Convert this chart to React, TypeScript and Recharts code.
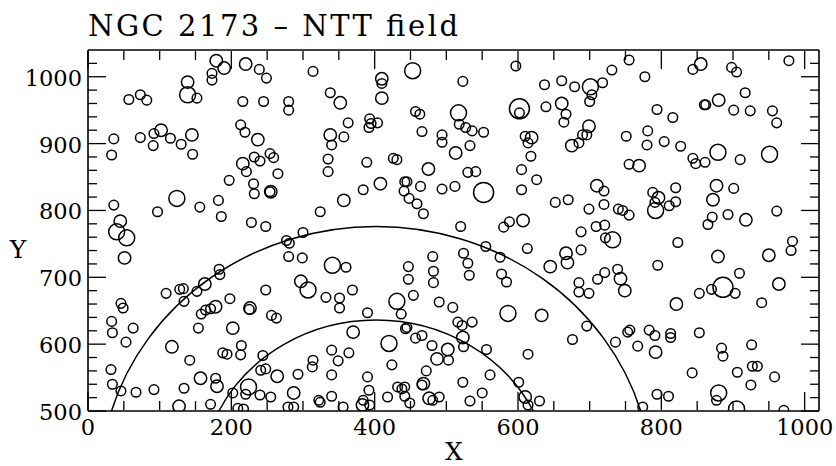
import React from "react";
import { ScatterChart, Scatter, XAxis, YAxis, ReferenceDot } from "recharts";

const smallStars: [number, number][] = [
  [173, 1005], [173, 995], [239, 1011], [249, 998], [314, 1008], [152, 968], [57, 966], [73, 973], [82, 965],
  [216, 963], [245, 963], [280, 963], [280, 950], [338, 976], [410, 990], [523, 993], [597, 1016], [637, 988],
  [661, 994], [679, 985], [703, 973], [718, 991], [731, 1010], [755, 1025], [777, 1000], [844, 1011], [898, 1014],
  [905, 1007], [978, 1024], [917, 976], [860, 958], [901, 950], [924, 949], [955, 949], [961, 931], [794, 951],
  [816, 939], [639, 955], [667, 944], [664, 932], [700, 963], [602, 946], [518, 929], [527, 924], [552, 917],
  [457, 948], [463, 944], [466, 918], [393, 937], [395, 930], [392, 924], [404, 931], [363, 931], [340, 898],
  [357, 910], [494, 913], [494, 902], [536, 919], [533, 897], [610, 911], [614, 901], [618, 881], [605, 861],
  [626, 846], [690, 913], [696, 913], [685, 901], [751, 911], [781, 919], [780, 898], [804, 903], [827, 896],
  [910, 876], [844, 878], [848, 870], [861, 872], [755, 869],
  [33, 883], [36, 907], [73, 909], [91, 897], [92, 915], [115, 908], [130, 899], [146, 884], [213, 928], [219, 917],
  [221, 858], [232, 880], [240, 874], [254, 885], [259, 879], [265, 855], [231, 840], [232, 825], [197, 845],
  [156, 805], [182, 815], [186, 791], [97, 798], [36, 808], [228, 782], [248, 776], [277, 755], [281, 751],
  [300, 767], [280, 731], [299, 729], [324, 798], [335, 877], [335, 858], [384, 831], [389, 872], [426, 878],
  [431, 876], [442, 843], [445, 843], [441, 829], [448, 818], [459, 810], [468, 795], [464, 836], [494, 832],
  [512, 836], [530, 857], [541, 858], [605, 831], [652, 812], [670, 816], [720, 829], [720, 809], [699, 802],
  [740, 802], [746, 800], [755, 793], [788, 827], [791, 812], [811, 807], [820, 834], [820, 813], [871, 790],
  [865, 779], [901, 833], [893, 794], [961, 799], [983, 754], [981, 740], [823, 752], [795, 718], [909, 706],
  [870, 682], [853, 676], [903, 676], [940, 662], [853, 617], [884, 594], [886, 582], [926, 599], [791, 613],
  [783, 621], [813, 616], [813, 610], [767, 597], [753, 618], [756, 621], [736, 603], [843, 557], [906, 558],
  [927, 567], [934, 567], [958, 551], [925, 539], [794, 525], [810, 522], [877, 516], [971, 501], [774, 506],
  [696, 627], [676, 607],
  [688, 741], [685, 692], [685, 678], [699, 676], [711, 697], [721, 707], [739, 712], [722, 759], [709, 776],
  [721, 778], [688, 768], [613, 743], [588, 783], [580, 775], [577, 705], [584, 693], [575, 730], [555, 746],
  [520, 776], [524, 736], [530, 721], [532, 703], [481, 731], [482, 709], [482, 692], [447, 716], [447, 697],
  [454, 673], [437, 645], [443, 623], [490, 663], [509, 655], [516, 633], [522, 628], [536, 633], [524, 596],
  [556, 592], [503, 576], [472, 560], [480, 598], [457, 609], [466, 613], [424, 569], [445, 625], [390, 647],
  [364, 587], [340, 591], [349, 575], [340, 554], [351, 654], [351, 669], [332, 670], [369, 681], [360, 715],
  [248, 681], [225, 652], [256, 643], [263, 639], [214, 598], [213, 584], [244, 583], [198, 668], [183, 712],
  [184, 704], [152, 679], [128, 682], [133, 683], [109, 676], [134, 664], [158, 645], [164, 651], [171, 653],
  [154, 624], [142, 576], [134, 534], [188, 587], [194, 585], [171, 510], [202, 527], [220, 525], [209, 504],
  [217, 503], [241, 561], [248, 563], [255, 521], [240, 524], [293, 555], [314, 576], [313, 566], [279, 506],
  [287, 506], [322, 516], [340, 522], [324, 513], [356, 506], [384, 516], [393, 509], [392, 531], [390, 551],
  [418, 521], [432, 536], [438, 533], [442, 536], [442, 522], [449, 512], [466, 539], [481, 516], [490, 521],
  [523, 543], [533, 515], [550, 527], [561, 554], [601, 543], [614, 509], [630, 515], [614, 585], [32, 562],
  [34, 540], [46, 530], [67, 528], [92, 532], [33, 634], [34, 617], [46, 661], [49, 654], [63, 624], [53, 603],
  [178, 549], [254, 828], [862, 958],
];

const mediumStars: [number, number][] = [
  [179, 1024], [190, 1013], [220, 1019], [139, 992], [410, 997], [410, 968], [352, 961], [855, 1019], [880, 965],
  [661, 960], [338, 913], [513, 886], [619, 909], [699, 926], [675, 897], [769, 867], [237, 906], [145, 913],
  [102, 920], [216, 870], [255, 828], [408, 840], [357, 815], [475, 862], [710, 837], [796, 819], [872, 816],
  [877, 837], [918, 786], [607, 785], [645, 716], [667, 736], [669, 722], [743, 698], [749, 680], [879, 731],
  [950, 733], [964, 690], [821, 660], [792, 588], [633, 643], [45, 784], [51, 729], [117, 596], [163, 690],
  [178, 656], [202, 624], [226, 654], [297, 694], [264, 552], [287, 527], [157, 549], [180, 537], [127, 507],
  [468, 541], [487, 578], [502, 592], [523, 610], [610, 521], [476, 519], [383, 509], [370, 618],
];

const largeStars: [number, number][] = [
  [453, 1009], [701, 985], [139, 973], [517, 946], [124, 818], [40, 768], [54, 759], [879, 887], [951, 884],
  [792, 800], [341, 718], [307, 681], [431, 664], [420, 601], [586, 646], [732, 756], [880, 527], [905, 503],
  [224, 536],
];

const hugeStars: [number, number][] = [
  [602, 952], [552, 827], [886, 685],
];

// two circles about the same centre (data units)
const ringCentre = { x: 402, y: 391 };
const ringRadii = [385, 245];

const X_DOMAIN: [number, number] = [0, 1020];
const Y_DOMAIN: [number, number] = [500, 1040];
const X_TICKS = [0, 50, 100, 150, 200, 250, 300, 350, 400, 450, 500, 550, 600, 650, 700, 750, 800, 850, 900, 950, 1000];
const Y_TICKS = [500, 520, 540, 560, 580, 600, 620, 640, 660, 680, 700, 720, 740, 760, 780, 800, 820, 840, 860, 880,
  900, 920, 940, 960, 980, 1000, 1020];

const W = 836;
const H = 466;
// axes are 1px thick, so plot box = 88..819 x 50..411
const MARGIN = { top: 49, right: 16, bottom: 54, left: 87 };
const PLOT_W = 731;
const PLOT_H = 361;
const FONT = "DejaVu Serif";

const toPts = (arr: [number, number][]) => arr.map(([x, y]) => ({ x, y }));

const ring = (r: number) => (p: any) => (
  <circle cx={p.cx} cy={p.cy} r={r} fill="none" stroke="#000" strokeWidth={1.5} />
);

const Arcs = (p: any) => {
  const sx = PLOT_W / (X_DOMAIN[1] - X_DOMAIN[0]);
  const sy = PLOT_H / (Y_DOMAIN[1] - Y_DOMAIN[0]);
  const dy = Y_DOMAIN[0] - ringCentre.y;
  const yb = p.cy - dy * sy;
  return (
    <g>
      {ringRadii.map((R) => {
        const hw = Math.sqrt(R * R - dy * dy);
        const d = `M ${p.cx - hw * sx} ${yb} A ${R * sx} ${R * sy} 0 0 1 ${p.cx + hw * sx} ${yb}`;
        return <path key={R} d={d} fill="none" stroke="#000" strokeWidth={1.5} />;
      })}
    </g>
  );
};

const xMajor = (v: number) => v % 200 === 0;
const yMajor = (v: number) => v % 100 === 0;

const BottomTick = (p: any) => {
  const v = p.payload.value;
  const y = p.y - 1;
  return (
    <g>
      <line x1={p.x} x2={p.x} y1={y} y2={y - (xMajor(v) ? 18 : 9)} stroke="#000" strokeWidth={1.3} />
      {xMajor(v) && (
        <text x={p.x} y={y + 25} textAnchor="middle" fontFamily={FONT} fontSize={22.5} fill="#000">
          {v}
        </text>
      )}
    </g>
  );
};

const TopTick = (p: any) => {
  const v = p.payload.value;
  const y = p.y + 1;
  return <line x1={p.x} x2={p.x} y1={y} y2={y + (xMajor(v) ? 18 : 9)} stroke="#000" strokeWidth={1.3} />;
};

const LeftTick = (p: any) => {
  const v = p.payload.value;
  return (
    <g>
      <line x1={p.x} x2={p.x + (yMajor(v) ? 18 : 9)} y1={p.y} y2={p.y} stroke="#000" strokeWidth={1.3} />
      {yMajor(v) && (
        <text x={p.x - 6} y={p.y + 9} textAnchor="end" fontFamily={FONT} fontSize={22.5} fill="#000">
          {v}
        </text>
      )}
    </g>
  );
};

const RightTick = (p: any) => {
  const v = p.payload.value;
  return <line x1={p.x} x2={p.x - (yMajor(v) ? 18 : 9)} y1={p.y} y2={p.y} stroke="#000" strokeWidth={1.3} />;
};

const frame = { stroke: "#000", strokeWidth: 1.6 };

export default function App() {
  return (
    <div style={{ position: "absolute", left: 0, top: 0, width: W, height: H, background: "#fff" }}>
      <svg style={{ position: "absolute", left: 0, top: 0 }} width={W} height={H}>
        <text x={88} y={36} fontFamily={FONT} fontSize={29} textLength={370} lengthAdjust="spacing" fill="#000">
          NGC 2173 – NTT field
        </text>
        <text x={454} y={460} textAnchor="middle" fontFamily={FONT} fontSize={25} fill="#000">X</text>
        <text x={18} y={258} textAnchor="middle" fontFamily={FONT} fontSize={25} fill="#000">Y</text>
      </svg>
      <div style={{ position: "absolute", left: 0, top: 0 }}>
        <ScatterChart width={W} height={H} margin={MARGIN}>
          <XAxis xAxisId="bottom" type="number" dataKey="x" domain={X_DOMAIN} allowDataOverflow ticks={X_TICKS}
            interval={0} height={1} tickSize={0} tickMargin={0} tickLine={false} axisLine={frame} tick={<BottomTick />} />
          <XAxis xAxisId="top" orientation="top" type="number" dataKey="x" domain={X_DOMAIN} allowDataOverflow ticks={X_TICKS}
            interval={0} height={1} tickSize={0} tickMargin={0} tickLine={false} axisLine={frame} tick={<TopTick />} />
          <YAxis yAxisId="left" type="number" dataKey="y" domain={Y_DOMAIN} allowDataOverflow ticks={Y_TICKS}
            interval={0} width={1} tickSize={0} tickMargin={0} tickLine={false} axisLine={frame} tick={<LeftTick />} />
          <YAxis yAxisId="right" orientation="right" type="number" dataKey="y" domain={Y_DOMAIN} allowDataOverflow ticks={Y_TICKS}
            interval={0} width={1} tickSize={0} tickMargin={0} tickLine={false} axisLine={frame} tick={<RightTick />} />
          <Scatter xAxisId="bottom" yAxisId="left" data={toPts(smallStars)} shape={ring(4.8)} isAnimationActive={false} />
          <Scatter xAxisId="bottom" yAxisId="left" data={toPts(mediumStars)} shape={ring(6.2)} isAnimationActive={false} />
          <Scatter xAxisId="bottom" yAxisId="left" data={toPts(largeStars)} shape={ring(8)} isAnimationActive={false} />
          <Scatter xAxisId="bottom" yAxisId="left" data={toPts(hugeStars)} shape={ring(10)} isAnimationActive={false} />
          <ReferenceDot xAxisId="bottom" yAxisId="left" x={ringCentre.x} y={ringCentre.y} ifOverflow="visible"
            shape={(p: any) => <Arcs {...p} />} />
        </ScatterChart>
      </div>
    </div>
  );
}
